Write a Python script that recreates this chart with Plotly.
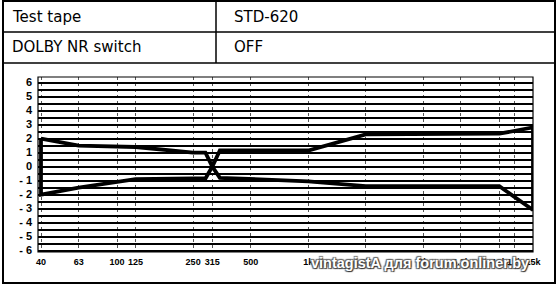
import math
import plotly.graph_objects as go

# ---- data ----
freq_upper = [40, 63, 125, 250, 290, 315, 345, 1000, 2000, 10000, 15000]
db_upper = [2.0, 1.5, 1.4, 1.0, 1.0, 0.0, 1.15, 1.15, 2.3, 2.35, 2.8]
freq_lower = [40, 63, 125, 250, 290, 315, 345, 1000, 2000, 10000, 15000]
db_lower = [-2.0, -1.5, -0.9, -0.85, -0.85, 0.0, -0.8, -1.05, -1.4, -1.4, -3.1]

x_tick_vals = [40, 63, 100, 125, 250, 315, 500, 1000, 2000, 4000, 6300, 10000, 12000, 15000]
x_tick_text = ["40", "63", "100", "125", "250", "315", "500", "1k", "2k", "4k", "6.3k", "10k", "12k", "15k"]

table_labels = ["Test tape", "DOLBY NR switch"]
table_values = ["STD-620", "OFF"]
watermark = "vintagistA для forum.onliner.by"

# ---- layout geometry ----
W, H = 558, 286
ML, MR, MT, MB = 38, 25, 77, 34
PW, PH = W - ML - MR, H - MT - MB


def px(x):
    return (x - ML) / PW


def py(y):
    return (H - MB - y) / PH


# closed band outline
band_x = freq_upper + freq_lower[::-1] + [freq_upper[0]]
band_y = db_upper + db_lower[::-1] + [db_upper[0]]

y_grid_vals = [v / 2 for v in range(-12, 13)]
y_grid_text = [(str(int(v)) if v >= 0 else "- " + str(int(-v))) if v == int(v) else ""
               for v in y_grid_vals]

fig = go.Figure()
fig.add_trace(go.Scatter(
    x=band_x, y=band_y, mode="lines",
    line=dict(color="black", width=3.8),
    hoverinfo="skip", showlegend=False,
))

fig.update_xaxes(
    type="log",
    range=[math.log10(40) - 3 / 191, math.log10(15000)],
    tickvals=x_tick_vals, ticktext=x_tick_text, tickangle=0,
    showgrid=True, gridcolor="#555", griddash="dot", gridwidth=1,
    ticks="", zeroline=False, ticklabelstandoff=3,
    tickfont=dict(family="Liberation Sans", size=9, color="black", weight="bold"),
    showline=False,
)
fig.update_yaxes(
    range=[-6.1, 6.4],
    tickvals=y_grid_vals, ticktext=y_grid_text,
    showgrid=True, gridcolor="black", gridwidth=2,
    ticks="", zeroline=False, ticklabelstandoff=5,
    tickfont=dict(family="Liberation Sans", size=11, color="black", weight="bold"),
    showline=False,
)

shapes = []
# outer border
shapes.append(dict(type="rect", xref="paper", yref="paper",
                   x0=px(3), x1=px(555), y0=py(1), y1=py(283),
                   line=dict(color="black", width=2)))
# row lines
for yy in (32, 63):
    shapes.append(dict(type="line", xref="paper", yref="paper",
                       x0=px(3), x1=px(555), y0=py(yy), y1=py(yy),
                       line=dict(color="black", width=1.5)))
# column divider
shapes.append(dict(type="line", xref="paper", yref="paper",
                   x0=px(216), x1=px(216), y0=py(1), y1=py(63),
                   line=dict(color="black", width=1.5)))
# plot frame
shapes.append(dict(type="rect", xref="paper", yref="paper",
                   x0=0, x1=1, y0=0, y1=1,
                   line=dict(color="black", width=1.2)))

annotations = []
row_y = [17, 47]
for lab, val, yy in zip(table_labels, table_values, row_y):
    annotations.append(dict(text=lab, xref="paper", yref="paper",
                            x=px(10), y=py(yy), xanchor="left", yanchor="middle",
                            showarrow=False,
                            font=dict(family="DejaVu Sans", size=15, color="black")))
    annotations.append(dict(text=val, xref="paper", yref="paper",
                            x=px(232), y=py(yy), xanchor="left", yanchor="middle",
                            showarrow=False,
                            font=dict(family="DejaVu Sans", size=15, color="black")))
annotations.append(dict(text=watermark, xref="paper", yref="paper",
                        x=px(531), y=py(263), xanchor="right", yanchor="middle",
                        showarrow=False,
                        font=dict(family="Liberation Sans", size=14.5, color="white",
                                  weight="bold",
                                  shadow="1px 1px 1px #333, -1px -1px 1px #666, 1px -1px 1px #666, -1px 1px 1px #666")))

fig.update_layout(
    width=W, height=H,
    margin=dict(l=ML, r=MR, t=MT, b=MB, pad=0),
    paper_bgcolor="white", plot_bgcolor="white",
    shapes=shapes, annotations=annotations,
    showlegend=False,
)

fig.write_html("out.html", config={"displayModeBar": False})
